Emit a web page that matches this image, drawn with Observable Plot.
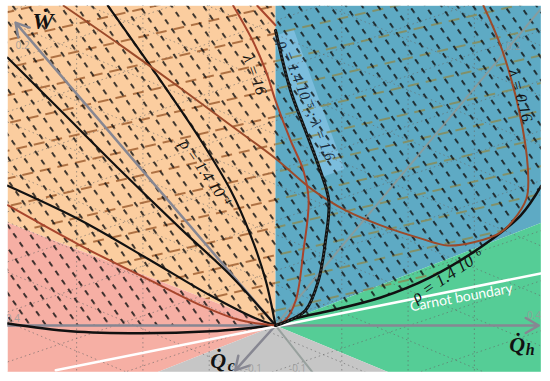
<!DOCTYPE html>
<html><head><meta charset="utf-8">
<script src="https://cdn.jsdelivr.net/npm/d3@7"></script>
<script src="https://cdn.jsdelivr.net/npm/@observablehq/plot@0.6"></script>
<style>body{margin:0;background:#fff}</style>
</head><body><div id="chart"></div>
<script>
// x = Q̇h , y = Ẇ (data units)
const frameX = [-0.412, 0.409];
const frameY = [-0.072, 0.492];
const orangeRegion = [[-0.412,0.492],[0,0.492],[0,0],[-0.412,0.158]];
const pinkRegion = [[-0.412,0.158],[0,0],[-0.182,-0.072],[-0.412,-0.072]];
const blueRegion = [[0,0.492],[0.409,0.492],[0.409,0.158],[0,0]];
const greenRegion = [[0,0],[0.409,0.158],[0.409,-0.072],[0.174,-0.072]];
const grayRegion = [[0,0],[0.174,-0.072],[-0.182,-0.072]];

const rho6Right = [[0,0],[0.031,0.011],[0.085,0.023],[0.162,0.043],[0.238,0.074],[0.315,0.12],[0.377,0.169],[0.409,0.215]];
const rho6Left = [[-0.412,0.003],[-0.315,-0.009],[-0.208,-0.012],[-0.1,-0.009],[-0.031,-0.003],[0,0]];
const rho5 = [[0,0.454],[0.023,0.362],[0.046,0.3],[0.069,0.238],[0.082,0.192],[0.077,0.131],[0.066,0.069],[0.046,0.023],[0.015,0.005],[0,0]];
const rho5Band = [[0.012,0.45],[0.09,0.235]];
const rho4 = [[-0.258,0.492],[-0.177,0.377],[-0.115,0.285],[-0.069,0.208],[-0.038,0.138],[-0.015,0.069],[0,0]];
const blackA = [[-0.412,0.412],[-0.331,0.331],[-0.238,0.238],[-0.146,0.149],[-0.069,0.077],[-0.02,0.023],[0,0]];
const blackB = [[-0.412,0.215],[-0.3,0.162],[-0.192,0.1],[-0.1,0.046],[-0.031,0.011],[0,0]];
const redLow = [[-0.412,0.185],[-0.3,0.123],[-0.192,0.069],[-0.115,0.031],[-0.054,0.008],[0,0]];
const lambda016 = [[-0.326,0.492],[-0.238,0.431],[-0.146,0.365],[-0.069,0.308],[0,0.257],[0.054,0.211],[0.108,0.177],[0.162,0.154],[0.223,0.134],[0.265,0.123],[0.305,0.128],[0.346,0.143],[0.366,0.162],[0.386,0.195],[0.389,0.222],[0.38,0.305],[0.349,0.423],[0.32,0.492]];
const lambda16 = [[-0.065,0.492],[-0.035,0.438],[-0.015,0.392],[0,0.346],[0.023,0.285],[0.043,0.238],[0.051,0.192],[0.043,0.115],[0.031,0.038],[0.015,0.008],[0,0]];
const lambda16b = [[-0.028,0.492],[0,0.462]];

const axes = [
  {x1:-0.412, y1:0, x2:0.405, y2:0},
  {x1:0, y1:0, x2:-0.4, y2:0.466},
  {x1:0, y1:0, x2:-0.062, y2:-0.069}
];
const axis2 = [{x1:0,y1:0,x2:0.409,y2:0.488},{x1:0,y1:0,x2:0.057,y2:-0.072}];
const carnot = [[-0.338,-0.069],[0.408,0.08]];

const gridX = [-0.306,-0.204,-0.102,0.102,0.204,0.306];
const gridUpB = [-0.224,-0.147,-0.070,0.007,0.084,0.161,0.238,0.315,0.392,0.469,0.546,0.623];
const gridDownB = [-0.245,-0.168,-0.091,-0.014,0.063,0.140,0.217,0.294,0.371,0.448,0.525,0.602,0.679];
const slopeUp = 0.34, slopeDown = -0.42;

const tickLabels = [
  {t:"0.2", x:-0.389, y:0.431},{t:"0.2", x:0.366, y:0.428},
  {t:"0.4", x:-0.404, y:0.011},{t:"0.4", x:0.398, y:0.015},
  {t:"-0.1", x:-0.034, y:-0.066},{t:"-0.1", x:0.034, y:-0.066}
];

const hatchPoly = [[-0.412,0],[-0.412,0.492],[0.409,0.492], ...rho6Right.slice().reverse()];
const olivePoly = [[0,0.492],[0.409,0.492], ...rho6Right.slice().reverse()];

const P = d => d[0], Q = d => d[1];
const poly = (data, fill) => Plot.line(data, {x:P, y:Q, fill, stroke:"none", curve:"linear-closed"});
const curve = (data, stroke, w, extra={}) => Plot.line(data, {x:P, y:Q, stroke, strokeWidth:w, curve:"catmull-rom", ...extra});
const lineSegs = (bs, m) => bs.map(b => ({x1:frameX[0], y1:m*frameX[0]+b, x2:frameX[1], y2:m*frameX[1]+b}));

const serif = "Liberation Serif";
const chart = Plot.plot({
  width:550, height:381, margin:0,
  x:{domain:[-0.4231,0.4231], axis:null},
  y:{domain:[-0.0862,0.5], axis:null},
  style:{background:"#fff"},
  marks:[
    poly(orangeRegion, "#fbcd9f"),
    poly(pinkRegion, "#f6afa4"),
    poly(blueRegion, "#5eaac4"),
    poly(greenRegion, "#55cd96"),
    poly(grayRegion, "#c6c6c6"),
    curve(rho5Band, "#86c3e6", 22, {strokeOpacity:0.75, strokeLinecap:"butt"}),
    Plot.ruleX(gridX, {stroke:"#666", strokeDasharray:"1.5,3", strokeOpacity:0.6}),
    Plot.link(lineSegs(gridUpB, slopeUp), {x1:"x1",y1:"y1",x2:"x2",y2:"y2", stroke:"#666", strokeDasharray:"1.5,3", strokeOpacity:0.6}),
    Plot.link(lineSegs(gridDownB, slopeDown), {x1:"x1",y1:"y1",x2:"x2",y2:"y2", stroke:"#666", strokeDasharray:"1.5,3", strokeOpacity:0.6}),
    poly(orangeRegion, "url(#brownDash)"),
    poly(olivePoly, "url(#oliveDash)"),
    poly(hatchPoly, "url(#blackHatch)"),
    Plot.arrow(axes, {x1:"x1",y1:"y1",x2:"x2",y2:"y2", stroke:"#878792", strokeWidth:2.5, headLength:9}),
    Plot.link(axis2, {x1:"x1",y1:"y1",x2:"x2",y2:"y2", stroke:"#8f9a96", strokeWidth:2, strokeOpacity:0.85}),
    curve(rho6Left, "#111", 2.5),
    curve(carnot, "#fff", 2.5),
    curve(rho6Right, "#111", 2.5),
    curve(blackA, "#111", 2.2),
    curve(blackB, "#111", 2.2),
    curve(rho4, "#111", 2.2),
    curve(redLow, "#a8452c", 2),
    curve(lambda016, "#9c4a2a", 2),
    curve(lambda16, "#a8452c", 2),
    curve(lambda16b, "#a8452c", 2),
    curve(rho5, "#111", 3),
    curve(rho5, "#555", 1, {strokeDasharray:"1,3"}),
    Plot.text(tickLabels, {x:"x", y:"y", text:"t", fill:"#999", fontSize:10, fillOpacity:0.8}),
    Plot.text(["Ẇ"], {x:[-0.358], y:[0.468], text:d=>d, fontSize:24, fontWeight:"bold", fontStyle:"italic", fontFamily:serif, fill:"#111"}),
    Plot.text(["Q̇"], {x:[-0.088], y:[-0.054], text:d=>d, fontSize:22, fontWeight:"bold", fontStyle:"italic", fontFamily:serif, fill:"#111"}),
    Plot.text(["c"], {x:[-0.068], y:[-0.062], text:d=>d, fontSize:16, fontWeight:"bold", fontStyle:"italic", fontFamily:serif, fill:"#111"}),
    Plot.text(["Q̇"], {x:[0.372], y:[-0.03], text:d=>d, fontSize:22, fontWeight:"bold", fontStyle:"italic", fontFamily:serif, fill:"#111"}),
    Plot.text(["h"], {x:[0.392], y:[-0.037], text:d=>d, fontSize:16, fontWeight:"bold", fontStyle:"italic", fontFamily:serif, fill:"#111"}),
    Plot.text(["Carnot boundary"], {x:[0.286], y:[0.043], text:d=>d, rotate:-10.5, fontSize:14, fontFamily:"Lato", fill:"#fff"}),
    Plot.text(["ρ = 1.4 10⁻⁶"], {x:[0.265], y:[0.077], text:d=>d, rotate:-34, fontSize:17, fontStyle:"italic", fontFamily:serif, fill:"#111"}),
    Plot.text(["ρ = 1.4 10⁻⁵ ; λ = 1.6"], {x:[0.048], y:[0.346], text:d=>d, rotate:68, fontSize:15, fontStyle:"italic", fontFamily:serif, fill:"#1a2a3a"}),
    Plot.text(["ρ = 1.4 10⁻⁴"], {x:[-0.108], y:[0.235], text:d=>d, rotate:55, fontSize:16, fontStyle:"italic", fontFamily:serif, fill:"#111"}),
    Plot.text(["λ = 16"], {x:[-0.032], y:[0.386], text:d=>d, rotate:70, fontSize:16, fontStyle:"italic", fontFamily:serif, fill:"#111"}),
    Plot.text(["λ = 0.16"], {x:[0.377], y:[0.354], text:d=>d, rotate:75, fontSize:16, fontStyle:"italic", fontFamily:serif, fill:"#111"}),
    Plot.rect([0], {x1:-0.5, x2:frameX[0], y1:-0.2, y2:0.6, fill:"#fff"}),
    Plot.rect([0], {x1:frameX[1], x2:0.5, y1:-0.2, y2:0.6, fill:"#fff"}),
    Plot.rect([0], {x1:-0.5, x2:0.5, y1:frameY[1], y2:0.6, fill:"#fff"}),
    Plot.rect([0], {x1:-0.5, x2:0.5, y1:-0.2, y2:frameY[0], fill:"#fff"})
  ]
});
d3.select(chart).insert("defs", ":first-child").html(`
  <pattern id="blackHatch" patternUnits="userSpaceOnUse" width="11" height="13" patternTransform="rotate(55)">
    <line x1="0" y1="6" x2="5.5" y2="6" stroke="#111" stroke-width="1.6"/>
  </pattern>
  <pattern id="brownDash" patternUnits="userSpaceOnUse" width="18" height="27" patternTransform="rotate(-13)">
    <line x1="0" y1="13" x2="11" y2="13" stroke="#9b5a2b" stroke-width="1.6"/>
  </pattern>
  <pattern id="oliveDash" patternUnits="userSpaceOnUse" width="18" height="27" patternTransform="rotate(-13)">
    <line x1="0" y1="13" x2="11" y2="13" stroke="#8a8a52" stroke-width="1.6"/>
  </pattern>`);
document.getElementById("chart").appendChild(chart);
</script></body></html>
